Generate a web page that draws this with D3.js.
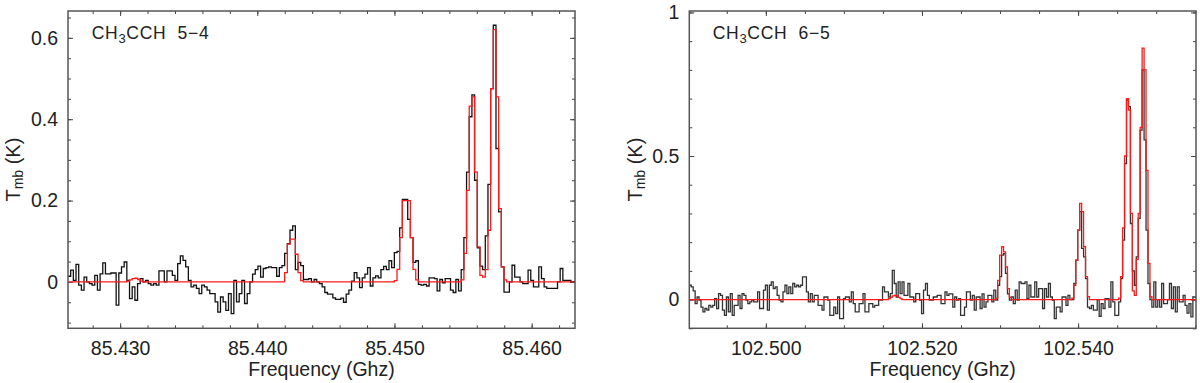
<!DOCTYPE html>
<html><head><meta charset="utf-8">
<script src="https://cdn.jsdelivr.net/npm/d3@7"></script>
<style>
body{margin:0;background:#fff;}
svg{display:block;font-family:"Liberation Sans",Arial,Helvetica,sans-serif;}
</style></head><body>
<svg id="chart" width="1200" height="383"></svg>
<script>
// ---------------- DATA ----------------
// Left spectrum: CH3CCH 5-4 (channel start frequency, channel width in GHz)
const leftStartGHz = 85.4262;
const leftStepGHz = 0.000195;
const leftObserved = [
 0.014, 0.029, 0.004, 0.043,-0.008,-0.020, 0.012, 0.000,-0.004,-0.008,
 0.016,-0.020, 0.020, 0.047, 0.020, 0.020, 0.022, 0.022,-0.057, 0.022,
 0.037, 0.049, 0.004,-0.041,-0.012,-0.045,-0.004, 0.008, 0.000, 0.004,
-0.004,-0.008,-0.004,-0.008, 0.027, 0.027, 0.000, 0.027, 0.027, 0.016,
 0.004, 0.045, 0.064, 0.053, 0.037, 0.004,-0.012,-0.008,-0.016,-0.029,
-0.008,-0.012,-0.020,-0.029,-0.029,-0.049,-0.074,-0.037,-0.049,-0.070,
-0.029,-0.078, 0.004,-0.049,-0.029, 0.004,-0.053,-0.029, 0.000, 0.019,
 0.030, 0.039, 0.012, 0.033, 0.035, 0.037, 0.035, 0.035, 0.014, 0.035,
 0.040, 0.070, 0.094, 0.127, 0.138, 0.030, 0.048, 0.040, 0.006, 0.006,
 0.008, 0.000, 0.006, 0.000,-0.004,-0.012,-0.026,-0.030,-0.030,-0.039,
-0.043,-0.043,-0.040,-0.050,-0.030,-0.020, 0.002, 0.023, 0.010,-0.014,
 0.010, 0.019, 0.035,-0.010, 0.010, 0.015, 0.010, 0.030, 0.038, 0.030,
 0.052, 0.035, 0.072, 0.075, 0.133, 0.203, 0.203, 0.154, 0.109, 0.048,
 0.052,-0.006,-0.008,-0.006,-0.010, 0.010, 0.010, 0.008,-0.022, 0.006,
-0.002, 0.008, 0.008,-0.020,-0.026, 0.006,-0.022, 0.030, 0.109, 0.270,
 0.406, 0.460, 0.250, 0.084, 0.039, 0.030, 0.113, 0.240, 0.475, 0.631,
 0.328, 0.172, 0.037,-0.025,-0.025, 0.000, 0.041, 0.012, 0.012, 0.000,
-0.004,-0.004, 0.029, 0.004,-0.012,-0.012, 0.037, 0.008,-0.012,-0.016,
-0.016,-0.016,-0.016, 0.000, 0.033, 0.004, 0.004, 0.004, 0.000, 0.000
];
const leftModel = [
 0,0,0,0,0,0,0,0,0,0,
 0,0,0,0,0,0,0,0,0,0,
 0,0,0.002,0.005,0.008,0.009,0.006,0.002,0,0,
 0,0,0,0,0,0,0,0,0,0,
 0,0,0,0,0,0,0,0,0,0,
 0,0,0,0,0,0,0,0,0,0,
 0,0,0,0,0,0,0,0,0,0,
 0,0,0,0,0,0,0,0,0,0,
 0,0.023,0.093,0.105,0.105,0.068,0.023,0.003,0,0,
 0,0,0,0,0,0,0,0,0,0,
 0,0,0,0,0,0,0,0,0,0,
 0,0,0,0,0,0,0,0,0,0,
 0,0,0.003,0.031,0.109,0.200,0.200,0.200,0.109,0.031,
 0.005,0,0,0,0,0,0,0,0,0,
 0,0,0,0,0,0,0,0.005,0.070,0.225,
 0.432,0.455,0.270,0.086,0.016,0.012,0.030,0.127,0.475,0.620,
 0.455,0.180,0.037,0.005,0,0,0,0,0,0,
 0,0,0,0,0,0,0,0,0,0,
 0,0,0,0,0,0,0,0,0,0
];

// Right spectrum: CH3CCH 6-5
const rightStartGHz = 102.4902;
const rightStepGHz = 0.00025;
const rightObserved = [
 0.050, 0.044, 0.030,-0.014, 0.009,-0.002,-0.026,-0.043,-0.031,-0.037,
-0.020,-0.026,-0.020, 0.003,-0.031, 0.021, 0.015,-0.037,-0.055, 0.009,
-0.043, 0.021,-0.055,-0.020,-0.020, 0.015,-0.031, 0.021, 0.015,-0.002,
-0.014,-0.008,-0.002,-0.008,-0.008, 0.027,-0.031,-0.031, 0.033, 0.050,
-0.037, 0.050, 0.062, 0.038, 0.044, 0.015,-0.002,-0.008, 0.027, 0.050,
 0.021, 0.044, 0.021, 0.056, 0.044, 0.050, 0.044, 0.050, 0.079, 0.079,
 0.027,-0.008, 0.021,-0.008, 0.015, 0.015,-0.020,-0.020,-0.037, 0.009,
 0.009,-0.002,-0.055,-0.055,-0.026,-0.049, 0.009,-0.066,-0.066, 0.003,
 0.009, 0.009,-0.008, 0.027,-0.014,-0.043,-0.043,-0.014,-0.014, 0.021,
-0.043,-0.043,-0.014,-0.014,-0.026,-0.020,-0.020,-0.002,-0.002, 0.044,
 0.027, 0.027, 0.009, 0.021, 0.102, 0.056, 0.009, 0.062, 0.021, 0.062,
 0.015, 0.015, 0.056, 0.009, 0.009,-0.008, 0.021, 0.021,-0.002,-0.049,
 0.033, 0.056, 0.015,-0.002,-0.002, 0.009, 0.009, 0.015, 0.015,-0.014,
-0.014, 0.027, 0.015, 0.020, 0.020,-0.026, 0.009,-0.002, 0.003,-0.055,
-0.055,-0.026, 0.027, 0.027,-0.002, 0.015,-0.037, 0.009, 0.009,-0.031,
 0.020,-0.026,-0.008, 0.015, 0.015,-0.008, 0.033,-0.002, 0.050, 0.080,
 0.155, 0.160, 0.091, 0.020,-0.002, 0.009,-0.014, 0.033,-0.002, 0.062,
 0.056, 0.056, 0.062, 0.003, 0.050, 0.009, 0.009, 0.062, 0.009, 0.038,
 0.038,-0.031, 0.038, 0.009, 0.056, 0.009,-0.002,-0.066,-0.026,-0.026,
-0.043, 0.009, 0.009,-0.020, 0.015, 0.000, 0.000, 0.056, 0.137, 0.242,
 0.306, 0.178, 0.149, 0.073,-0.026,-0.031,-0.020,-0.037,-0.037, 0.000,
-0.058,-0.014,-0.031, 0.003, 0.003,-0.026, 0.062,-0.008,-0.055,-0.055,
-0.008, 0.073, 0.207, 0.474, 0.695, 0.672, 0.265, 0.100, 0.050, 0.149,
 0.283, 0.590, 0.800, 0.556, 0.242, 0.056, 0.000,-0.026, 0.062,-0.026,
 0.000,-0.026, 0.056,-0.014,-0.014, 0.000, 0.056,-0.031, 0.044,-0.043,
 0.044,-0.008,-0.008, 0.015,-0.020,-0.047,-0.014,-0.060, 0.009, 0.009
];
const rightModel = [
 0,0,0,0,0,0,0,0,0,0,
 0,0,0,0,0,0,0,0,0,0,
 0,0,0,0,0,0,0,0,0,0,
 0,0,0,0,0,0,0,0,0,0,
 0,0,0,0,0,0,0,0,0,0,
 0,0,0,0,0,0,0,0,0,0,
 0,0,0,0,0,0,0,0,0,0,
 0,0,0,0,0,0,0,0,0,0,
 0,0,0,0,0,0,0,0,0,0,
 0,0,0,0,0,0,0,0,0,0,
 0,0,0.003,0.008,0.013,0.015,0.013,0.008,0.003,0,
 0,0,0,0,0,0,0,0,0,0,
 0,0,0,0,0,0,0,0,0,0,
 0,0,0,0,0,0,0,0,0,0,
 0,0,0,0,0,0,0,0,0,0,
 0,0,0,0,0,0,0,0.005,0.067,0.155,
 0.184,0.166,0.114,0.038,0.008,0,0,0,0,0,
 0,0,0,0,0,0,0,0,0,0,
 0,0,0,0,0,0,0,0,0,0,
 0,0,0,0,0,0,0.005,0.050,0.137,0.242,
 0.335,0.306,0.184,0.080,0.010,0,0,0,0,0,
 0,0,0,0,0,0,0,0,0,0,
 0.005,0.080,0.250,0.500,0.700,0.660,0.300,0.030,0.015,0.140,
 0.300,0.600,0.876,0.800,0.450,0.126,0.010,0,0,0,
 0,0,0,0,0,0,0,0,0,0,
 0,0,0,0,0,0,0,0,0,0
];

// Tick values and labels
const leftXTicks = [85.430, 85.440, 85.450, 85.460];
const leftXTickLabels = ["85.430", "85.440", "85.450", "85.460"];
const leftYTicks = [0, 0.2, 0.4, 0.6];
const leftYTickLabels = ["0", "0.2", "0.4", "0.6"];
const rightXTicks = [102.500, 102.520, 102.540];
const rightXTickLabels = ["102.500", "102.520", "102.540"];
const rightYTicks = [0, 0.5, 1];
const rightYTickLabels = ["0", "0.5", "1"];
const leftMinorXStep = 0.002, leftMinorYStep = 0.05;
const rightMinorXStep = 0.005, rightMinorYStep = 0.1;
const transitions = ["5\u22124", "6\u22125"];
const xTitle = "Frequency (Ghz)";

// ---------------- DRAW ----------------
const svg = d3.select("#chart");
const FONT = "'Liberation Sans', Arial, Helvetica, sans-serif";

function minorTicks(domain, step) {
  const out = [];
  const k0 = Math.ceil(domain[0] / step - 1e-9), k1 = Math.floor(domain[1] / step + 1e-9);
  for (let k = k0; k <= k1; k++) out.push(+(k * step).toFixed(6));
  return out;
}

function drawPanel(cfg, idx) {
  const x = d3.scaleLinear().domain(cfg.xDomain).range([cfg.x0, cfg.x1]);
  const y = d3.scaleLinear().domain(cfg.yDomain).range([cfg.y1, cfg.y0]);
  const g = svg.append("g");

  const clipId = "clip" + idx;
  svg.append("clipPath").attr("id", clipId).append("rect")
    .attr("x", cfg.x0).attr("y", cfg.y0)
    .attr("width", cfg.x1 - cfg.x0).attr("height", cfg.y1 - cfg.y0);

  const mx = minorTicks(cfg.xDomain, cfg.minorX);
  const my = minorTicks(cfg.yDomain, cfg.minorY);
  const axes = [
    g.append("g").attr("transform", `translate(0,${cfg.y1})`).call(d3.axisBottom(x).tickValues(mx).tickSize(-3).tickFormat("")),
    g.append("g").attr("transform", `translate(0,${cfg.y0})`).call(d3.axisTop(x).tickValues(mx).tickSize(-3).tickFormat("")),
    g.append("g").attr("transform", `translate(${cfg.x0},0)`).call(d3.axisLeft(y).tickValues(my).tickSize(-3).tickFormat("")),
    g.append("g").attr("transform", `translate(${cfg.x1},0)`).call(d3.axisRight(y).tickValues(my).tickSize(-3).tickFormat("")),
    g.append("g").attr("transform", `translate(0,${cfg.y1})`).call(d3.axisBottom(x).tickValues(cfg.xTicks).tickSize(-5).tickPadding(12.5).tickFormat((d, i) => cfg.xLabels[i])),
    g.append("g").attr("transform", `translate(0,${cfg.y0})`).call(d3.axisTop(x).tickValues(cfg.xTicks).tickSize(-5).tickFormat("")),
    g.append("g").attr("transform", `translate(${cfg.x0},0)`).call(d3.axisLeft(y).tickValues(cfg.yTicks).tickSize(-5).tickPadding(10).tickFormat((d, i) => cfg.yLabels[i])),
    g.append("g").attr("transform", `translate(${cfg.x1},0)`).call(d3.axisRight(y).tickValues(cfg.yTicks).tickSize(-5).tickFormat(""))
  ];
  axes.forEach(a => {
    a.select(".domain").remove();
    a.selectAll("line").attr("stroke", "#444").attr("stroke-width", 1);
    a.selectAll("text").attr("font-family", FONT).attr("font-size", 19.5).attr("fill", "#222");
  });

  // spectra as step histograms
  const stepLine = d3.line().x(d => x(d[0])).y(d => y(d[1])).curve(d3.curveStepAfter);
  const toPts = (vals) => {
    const pts = vals.map((v, i) => [cfg.start + i * cfg.step, v]);
    pts.push([cfg.start + vals.length * cfg.step, vals[vals.length - 1]]);
    return pts;
  };
  const plot = g.append("g").attr("clip-path", `url(#${clipId})`);
  plot.append("path").attr("d", stepLine(toPts(cfg.observed)))
    .attr("fill", "none").attr("stroke", cfg.obsColor).attr("stroke-width", 1.3);
  plot.append("path").attr("d", stepLine(toPts(cfg.model)))
    .attr("fill", "none").attr("stroke", "#ff1a1a").attr("stroke-width", 1.3);

  // frame
  g.append("rect").attr("x", cfg.x0).attr("y", cfg.y0)
    .attr("width", cfg.x1 - cfg.x0).attr("height", cfg.y1 - cfg.y0)
    .attr("fill", "none").attr("stroke", "#555").attr("stroke-width", 1.5);

  // x title
  g.append("text").attr("x", (cfg.x0 + cfg.x1) / 2).attr("y", 376)
    .attr("text-anchor", "middle").attr("font-family", FONT).attr("font-size", 19.5).attr("fill", "#222")
    .text(xTitle);

  // y title T_mb (K)
  const yt = g.append("text")
    .attr("transform", `translate(${cfg.ylabX},${(cfg.y0 + cfg.y1) / 2}) rotate(-90)`)
    .attr("text-anchor", "middle").attr("font-family", FONT).attr("font-size", 20).attr("fill", "#222");
  yt.append("tspan").text("T");
  yt.append("tspan").attr("font-size", 14).attr("dy", 3).text("mb");
  yt.append("tspan").attr("dy", -3).text("\u00a0(K)");

  // species label
  const t = g.append("text").attr("x", cfg.titleX).attr("y", 38.5)
    .attr("font-family", FONT).attr("font-size", 17.5).attr("fill", "#222");
  t.append("tspan").text("CH");
  t.append("tspan").attr("font-size", 13).attr("dy", 4).text("3");
  t.append("tspan").attr("dy", -4).text("CCH\u00a0\u00a0" + cfg.transition);
  const w = t.node().getComputedTextLength();
  const nChars = ("CH3CCH  " + cfg.transition).length;
  t.attr("letter-spacing", Math.max(0, (117 - w) / (nChars - 1)));
}

drawPanel({
  x0: 68, x1: 575, y0: 11, y1: 328.3,
  xDomain: [85.4262, 85.46316], yDomain: [-0.114, 0.666],
  start: leftStartGHz, step: leftStepGHz,
  observed: leftObserved, model: leftModel, obsColor: "#111",
  xTicks: leftXTicks, xLabels: leftXTickLabels, yTicks: leftYTicks, yLabels: leftYTickLabels,
  minorX: leftMinorXStep, minorY: leftMinorYStep,
  ylabX: 20, titleX: 91.7, transition: transitions[0]
}, 0);

drawPanel({
  x0: 689.3, x1: 1196, y0: 11, y1: 328.3,
  xDomain: [102.4902, 102.5551], yDomain: [-0.1, 1.005],
  start: rightStartGHz, step: rightStepGHz,
  observed: rightObserved, model: rightModel, obsColor: "#333",
  xTicks: rightXTicks, xLabels: rightXTickLabels, yTicks: rightYTicks, yLabels: rightYTickLabels,
  minorX: rightMinorXStep, minorY: rightMinorYStep,
  ylabX: 642, titleX: 712.7, transition: transitions[1]
}, 1);
</script>
</body></html>
